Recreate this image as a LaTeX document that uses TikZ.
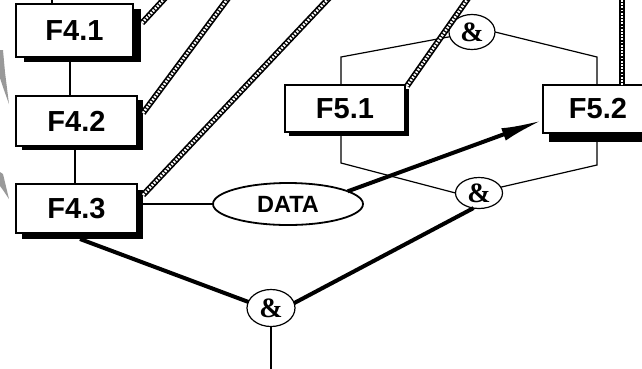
\documentclass[tikz,border=0pt]{standalone}
\usepackage{fontspec}
\setmainfont{Liberation Sans}
\newfontfamily\andfont{Liberation Serif}
\usetikzlibrary{shapes.geometric,arrows.meta,shadows,calc}
\begin{document}
\begin{tikzpicture}[x=1pt,y=-1pt,
  fbox/.style={draw, line width=1.2pt, fill=white, inner sep=0pt, outer sep=0pt,
    font=\fontsize{29}{29}\selectfont\bfseries, anchor=north west},
  bshadow/.style 2 args={drop shadow={shadow xshift=#1pt, shadow yshift=-#2pt, fill=black, opacity=1}},
  andnode/.style={draw, ellipse, line width=1.2pt, fill=white, inner sep=0pt, outer sep=0pt,
    font=\andfont\fontsize{28}{28}\selectfont\bfseries},
  datanode/.style={draw, ellipse, line width=1.8pt, fill=white, inner sep=0pt, outer sep=0pt,
    font=\fontsize{23.5}{23.5}\selectfont\bfseries},
  thinline/.style={line width=1.2pt},
  medline/.style={line width=2.2pt},
  thickline/.style={line width=4pt},
  hatchout/.style={line width=6pt, black},
  hatchin/.style={line width=2.6pt, white, dash pattern=on 1.8pt off 1.4pt},
  graymark/.style={fill=gray!80, draw=none}
]
\useasboundingbox (0,0) rectangle (642,368);
\clip (0,0) rectangle (642,368);
\fill[white] (0,0) rectangle (642,368);

% gray marks at the left edge
\fill[graymark] (0,50) -- (3,50) -- (5,72) -- (9,104) -- (4,90) -- (0,78) -- cycle;
\fill[graymark] (0,172) -- (3,174) -- (9,199) -- (3,190) -- (0,186) -- cycle;

% boxes
\node[fbox, bshadow={8}{5}, minimum width=117pt, minimum height=53pt] (F41) at (16,4) {F4.1};
\node[fbox, bshadow={6}{4}, minimum width=121pt, minimum height=50pt] (F42) at (16,96) {F4.2};
\node[fbox, bshadow={6}{6}, minimum width=121pt, minimum height=49pt] (F43) at (16,184) {F4.3};
\node[fbox, bshadow={4}{4}, minimum width=120pt, minimum height=47pt] (F51) at (285,85) {F5.1};
\node[fbox, bshadow={6}{9}, minimum width=110pt, minimum height=48pt] (F52) at (543,85) {F5.2};

% ellipses
\node[andnode, minimum width=46pt, minimum height=35pt] (andtop) at (472,32) {\&};
\node[andnode, minimum width=47pt, minimum height=31pt] (andbot) at (479,193) {\&};
\node[andnode, minimum width=48pt, minimum height=37pt] (andbig) at (271,308) {\&};
\node[datanode, minimum width=150pt, minimum height=42pt] (data) at (288,204) {DATA};

% helper coordinates
\coordinate (c52) at (52,0);
\coordinate (c70) at (70,0);
\coordinate (c75) at (75,0);
\coordinate (p1) at (341,57);
\coordinate (p2) at (597,57);
\coordinate (p3) at (341,163);
\coordinate (p4) at (597,165);
\coordinate (bot) at (271,372);
\coordinate (h1) at (166,-3);
\coordinate (h2) at (229,-3);
\coordinate (h3) at (330,-3);
\coordinate (h4) at (469,-3);
\coordinate (h5) at (622,-3);
\coordinate (s1) at ($(F41.north east)+(9,19)$);
\coordinate (s2) at ($(F42.north east)+(6,17)$);
\coordinate (s3) at ($(F43.north east)+(6,11)$);
\coordinate (s4) at ($(F51.north east)+(2,1)$);
\coordinate (s5) at ($(F52.north west)+(79,0)$);
\coordinate (a1) at ($(F43.south west)+(64,6)$);
\coordinate (a2) at ($(F52.south west)+(0,-13)$);

% thin connectors
\draw[thinline] (c52) -- (c52 |- F41.north);
\draw[thinline] (F41.south -| c70) -- (F42.north -| c70);
\draw[thinline] (F42.south -| c75) -- (F43.north -| c75);
\draw[thinline] (F51.north -| p1) -- (p1) -- (andtop.192);
\draw[thinline] (andtop.east) -- (p2) -- (F52.north -| p2);
\draw[thinline] (F51.south -| p3) -- (p3) -- (andbot.west);
\draw[thinline] (andbot.15) -- (p4) -- (F52.south -| p4);
\draw[thinline] (andbig.south) -- (bot);

% medium and thick connectors
\draw[medline] (F43.east |- data.west) -- (data.west);
\draw[thickline] (a1) -- (andbig.165);
\draw[thickline] (andbig.12) -- (andbot.250);
\draw[thickline, -{Latex[length=42pt,width=13pt]}] (data.12) -- (a2);

% hatched connectors
\foreach \s/\e in {s1/h1, s2/h2, s3/h3, s4/h4, s5/h5} {
  \draw[hatchout] (\s) -- (\e);
  \draw[hatchin] (\s) -- (\e);
}
\end{tikzpicture}
\end{document}
